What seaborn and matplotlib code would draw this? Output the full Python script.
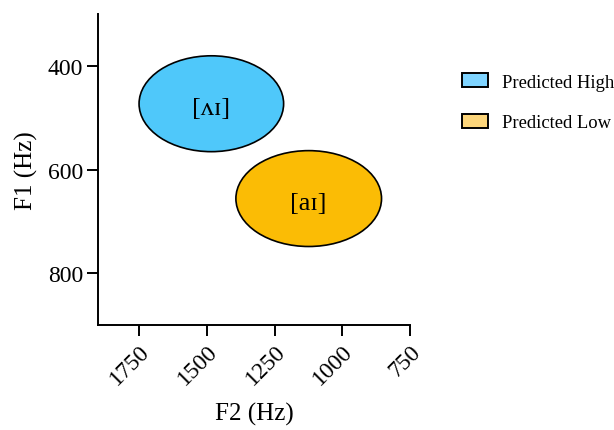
import matplotlib
matplotlib.use("Agg")
import matplotlib.pyplot as plt
from matplotlib.patches import Ellipse, Patch
import seaborn as sns

# vowel ellipses (F2 centre, F1 centre, F2 width, F1 height)
vowels = ["[ʌɪ]", "[aɪ]"]
groups = ["Predicted High", "Predicted Low"]
f2_center = [1483, 1124]
f1_center = [473, 656]
f2_width = [533, 537]
f1_height = [185, 185]
fill_colors = ["#4FC8FA", "#FBBC05"]
legend_colors = ["#7FD4FF", "#FCD57A"]

f2_ticks = [1750, 1500, 1250, 1000, 750]
f1_ticks = [400, 600, 800]

sns.set_style("ticks")
plt.rcParams['font.family'] = ['Liberation Serif', 'DejaVu Serif']
plt.rcParams['text.color'] = 'black'
plt.rcParams['axes.labelcolor'] = 'black'
plt.rcParams['xtick.color'] = 'black'
plt.rcParams['ytick.color'] = 'black'

fig = plt.figure(figsize=(6.14, 4.31), dpi=100)
ax = fig.add_axes([0.16, 0.2436, 0.508, 0.7214])

for i in range(len(vowels)):
    ell = Ellipse((f2_center[i], f1_center[i]), f2_width[i], f1_height[i],
                  facecolor=fill_colors[i], edgecolor="black", linewidth=1.2)
    ax.add_patch(ell)
    ax.text(f2_center[i], f1_center[i] + 8, vowels[i], ha="center", va="center",
            fontsize=19, color="black")

ax.set_xlim(1900, 750)
ax.set_ylim(900, 300)
ax.set_xticks(f2_ticks)
ax.set_yticks(f1_ticks)
ax.set_xticklabels([str(t) for t in f2_ticks], rotation=45, ha="right",
                   rotation_mode="anchor", fontsize=17)
ax.set_yticklabels([str(t) for t in f1_ticks], fontsize=17)
ax.tick_params(length=8, width=1.4, color="black", pad=3)
for s in ["left", "bottom"]:
    ax.spines[s].set_linewidth(1.4)
    ax.spines[s].set_color("black")
sns.despine(ax=ax)

ax.set_xlabel("F2 (Hz)", fontsize=18, labelpad=10)
ax.set_ylabel("F1 (Hz)", fontsize=18, labelpad=7)

handles = [Patch(facecolor=legend_colors[i], edgecolor="black", linewidth=1.4)
           for i in range(len(groups))]
fig.legend(handles, groups, loc="upper left", bbox_to_anchor=(0.741, 0.845),
           frameon=False, fontsize=13.4, handlelength=1.35, handleheight=0.75,
           labelspacing=1.27, handletextpad=0.8, borderaxespad=0)

fig.savefig("out.png", dpi=100)
